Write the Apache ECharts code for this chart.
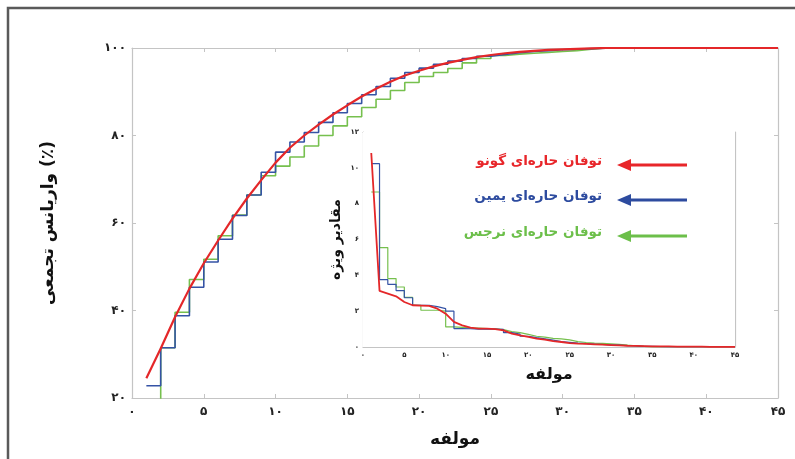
<!DOCTYPE html>
<html><head><meta charset="utf-8">
<script src="https://cdn.jsdelivr.net/npm/echarts@6/dist/echarts.min.js"></script>
<style>html,body{margin:0;padding:0;background:#fff}#c{width:795px;height:459px}</style>
</head><body><div id="c"></div>
<script>
// ---- data (component index 1..45) ----
const components = Array.from({length:45},(_,i)=>i+1);
const seriesNames = ['توفان حاره‌ای گونو','توفان حاره‌ای یمین','توفان حاره‌ای نرجس'];
const mainGonu = [24.5,31.3,38.5,45.0,50.8,56.0,61.0,65.6,69.8,73.8,77.2,80.0,82.5,84.8,86.9,88.9,90.7,92.3,93.7,94.8,95.8,96.6,97.3,97.9,98.4,98.8,99.1,99.35,99.55,99.7,99.82,99.92,100,100,100,100,100,100,100,100,100,100,100,100,100];
const mainYemyn = [22.8,31.5,38.8,45.3,51.1,56.3,61.7,66.4,71.6,76.2,78.5,80.7,83.0,85.2,87.3,89.3,91.2,93.1,94.4,95.4,96.3,97.0,97.6,98.1,98.5,98.9,99.2,99.4,99.6,99.75,99.85,99.95,100,100,100,100,100,100,100,100,100,100,100,100,100];
const mainNargis = [19.5,31.5,39.6,47.1,51.7,57.1,61.8,66.4,70.8,73.0,75.1,77.6,80.0,82.2,84.3,86.4,88.3,90.3,92.1,93.5,94.4,95.3,96.6,97.6,98.3,98.6,98.8,99.0,99.2,99.4,99.7,100,100,100,100,100,100,100,100,100,100,100,100,100,100];
const insetGonu = [10.83,3.13,2.98,2.83,2.51,2.33,2.31,2.29,2.14,1.86,1.40,1.21,1.08,1.03,1.03,1.0,0.93,0.75,0.65,0.56,0.47,0.41,0.33,0.28,0.22,0.19,0.17,0.15,0.13,0.11,0.09,0.07,0.06,0.05,0.04,0.03,0.03,0.02,0.02,0.02,0.02,0.01,0.01,0.01,0.01];
const insetYemyn = [10.23,3.76,3.5,3.15,2.75,2.33,2.33,2.25,2.14,2.0,1.03,1.02,1.0,1.0,1.0,0.98,0.8,0.72,0.6,0.52,0.45,0.38,0.3,0.26,0.22,0.19,0.16,0.14,0.12,0.1,0.08,0.06,0.04,0.03,0.02,0.01,0.01,0.01,0.01,0.01,0.01,0.01,0.01,0.01,0.01];
const insetNargis = [8.65,5.55,3.82,3.35,2.77,2.33,2.05,2.05,2.0,1.12,1.1,1.07,1.05,1.03,1.02,0.97,0.86,0.8,0.7,0.6,0.55,0.48,0.45,0.4,0.3,0.25,0.22,0.2,0.18,0.15,0.1,0.06,0.03,0.01,0.01,0.01,0.01,0.01,0.01,0.01,0.01,0.01,0.01,0.01,0.01];
const mainXTicks = ['۰','۵','۱۰','۱۵','۲۰','۲۵','۳۰','۳۵','۴۰','۴۵'];
const mainYTicks = {20:'۲۰',40:'۴۰',60:'۶۰',80:'۸۰',100:'۱۰۰'};
const insetYTicks = {0:'۰',2:'۲',4:'۴',6:'۶',8:'۸',10:'۱۰',12:'۱۲'};
const xTitle = 'مولفه';
const yTitle = 'واریانس تجمعی (٪)';
const insetYTitle = 'مقادیر ویژه';

const colors = ['#e42729','#3553a5','#76c04e'];
const legendColors = ['#e8262a','#2d4b9f','#6cbf4a'];
const FONT = 'DejaVu Sans';
const pair = arr => arr.map((v,i)=>[components[i], v]);
const axisGray = '#c4c4c4';

function xAx(grid, pos, labels, fs, show){
  return {type:'value', gridIndex:grid, position:pos, min:0, max:45, interval:5,
    axisLine:{show:true,onZero:false,lineStyle:{color:axisGray,width:1.2}},
    axisTick:{show:true,inside:true,length:4,lineStyle:{color:axisGray}},
    splitLine:{show:false},
    axisLabel:{show:show,fontFamily:FONT,fontWeight:'bold',fontSize:fs,color:'#222',margin: fs>10?8:5,
      formatter:v=>mainXTicks[Math.round(v/5)]}};
}
function yAx(grid,pos,min,max,interval,map,fs,show){
  return {type:'value', gridIndex:grid, position:pos, min:min, max:max, interval:interval,
    axisLine:{show:true,onZero:false,lineStyle:{color:axisGray,width:1.2}},
    axisTick:{show:true,inside:true,length:4,lineStyle:{color:axisGray}},
    splitLine:{show:false},
    axisLabel:{show:show,fontFamily:FONT,fontWeight:'bold',fontSize:fs,color:'#222',margin: fs>10?6:4,
      formatter:v=>map[v]}};
}

const xAxes = [xAx(0,'bottom',mainXTicks,12,true), xAx(0,'top',mainXTicks,12,false),
               xAx(1,'bottom',mainXTicks,7,true), xAx(1,'top',mainXTicks,7,false)];
xAxes[0].name = xTitle; xAxes[0].nameLocation='middle'; xAxes[0].nameGap=33;
xAxes[0].nameTextStyle={fontFamily:FONT,fontWeight:'bold',fontSize:17,color:'#111'};
xAxes[2].name = xTitle; xAxes[2].nameLocation='middle'; xAxes[2].nameGap=20;
xAxes[2].nameTextStyle={fontFamily:FONT,fontWeight:'bold',fontSize:16,color:'#111'};
const yAxes = [yAx(0,'left',20,100,20,mainYTicks,12,true), yAx(0,'right',20,100,20,mainYTicks,12,false),
               yAx(1,'left',0,12,2,insetYTicks,7,true), yAx(1,'right',0,12,2,insetYTicks,7,false)];
yAxes[0].name = yTitle; yAxes[0].nameLocation='middle'; yAxes[0].nameGap=75;
yAxes[0].nameTextStyle={fontFamily:FONT,fontWeight:'bold',fontSize:17,color:'#111'};
yAxes[2].name = insetYTitle; yAxes[2].nameLocation='middle'; yAxes[2].nameGap=20;
yAxes[2].nameTextStyle={fontFamily:FONT,fontWeight:'bold',fontSize:14,color:'#111'};

function line(name,data,color,width,step,xi,yi,z){
  return {name:name,type:'line',data:pair(data),xAxisIndex:xi,yAxisIndex:yi,step:step,showSymbol:false,
    symbol:'none',clip:true,z:z,lineStyle:{color:color,width:width},silent:true,animation:false};
}

const legendItems = [];
const legendY = [165,200,236];
seriesNames.forEach((n,i)=>{
  legendItems.push({type:'text',right:795-602,top:legendY[i]-11,z:100,
    style:{text:n,fill:legendColors[i],font:'bold 13.5px "'+FONT+'"',textAlign:'right'}});
  legendItems.push({type:'line',shape:{x1:628,y1:legendY[i],x2:687,y2:legendY[i]},z:100,
    style:{stroke:legendColors[i],lineWidth:3}});
  legendItems.push({type:'polygon',shape:{points:[[617,legendY[i]],[631,legendY[i]-6],[631,legendY[i]+6]]},z:100,
    style:{fill:legendColors[i]}});
});
legendItems.push({type:'rect',shape:{x:8,y:8,width:820,height:480},z:-1,
  style:{fill:'none',stroke:'#5a5a5a',lineWidth:2.5}});

const chart = echarts.init(document.getElementById('c'),null,{renderer:'canvas'});
chart.setOption({
  animation:false,
  backgroundColor:'#fff',
  grid:[{left:132,right:17,top:48,bottom:61,containLabel:false},
        {left:363,right:60,top:132,bottom:112,containLabel:false,show:true,backgroundColor:'#fff',borderWidth:0,z:3}],
  xAxis:xAxes, yAxis:yAxes,
  series:[
    line(seriesNames[2],mainNargis,colors[2],1.6,'end',0,0,2),
    line(seriesNames[1],mainYemyn,colors[1],1.6,'end',0,0,3),
    line(seriesNames[0],mainGonu,colors[0],2.2,false,0,0,4),
    line(seriesNames[2],insetNargis,colors[2],1.2,'end',2,2,5),
    line(seriesNames[1],insetYemyn,colors[1],1.2,'end',2,2,6),
    line(seriesNames[0],insetGonu,colors[0],1.8,false,2,2,7)
  ],
  graphic:legendItems
});
</script></body></html>
